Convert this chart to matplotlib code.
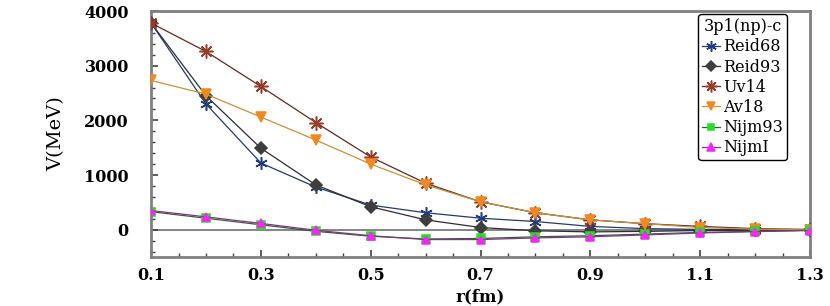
"""
3p1(np)-c potential V(r) for several NN potential models.
"""
import matplotlib
matplotlib.use("Agg")
import matplotlib.pyplot as plt
from matplotlib.ticker import MultipleLocator

# ── Data ──────────────────────────────────────────────────────────────────
r = [0.1, 0.2, 0.3, 0.4, 0.5, 0.6, 0.7, 0.8, 0.9, 1.0, 1.1, 1.2, 1.3]

reid68 = [3780, 2300, 1220, 780, 450, 310, 210, 150, 60, 20, 5, 0, 0]
reid93 = [3780, 2450, 1490, 820, 420, 180, 40, -20, -40, -30, -15, -10, -5]
uv14   = [3780, 3260, 2620, 1960, 1330, 850, 510, 310, 180, 110, 60, 20, 5]
av18   = [2730, 2480, 2060, 1640, 1200, 820, 510, 310, 180, 110, 40, 10, 0]
nijm93 = [330, 210, 90, -30, -120, -170, -160, -130, -110, -80, -50, -30, -10]
nijmI  = [350, 235, 115, -10, -110, -180, -180, -150, -130, -95, -60, -35, -15]

# ── Style per series: (label, values, marker, marker color, line color, size)
SERIES = [
    ("Reid68", reid68, (6, 2, 0), "#1f3d80", "#283a60", 9),
    ("Reid93", reid93, "D",       "#3e3e3e", "#2c2c3a", 6),
    ("Uv14",   uv14,   (8, 2, 0), "#9a3a28", "#5a2a22", 10),
    ("Av18",   av18,   "v",       "#f08a1e", "#c8903a", 7.5),
    ("Nijm93", nijm93, "s",       "#22e022", "#3a5a3a", 5.5),
    ("NijmI",  nijmI,  "^",       "#ff22ff", "#7a3a7a", 6),
]

FRAME = "#808080"
SERIF = "DejaVu Serif"

fig = plt.figure(figsize=(8.30, 3.06), dpi=100, facecolor="white")
ax = fig.add_axes([0.182, 0.160, 0.794, 0.804])

ax.axhline(0, color="#707070", linewidth=1.2, zorder=1)

for label, vals, mk, mcol, lcol, ms in SERIES:
    ax.plot(r, vals, color=lcol, linewidth=0.9, marker=mk, markersize=ms,
            markerfacecolor=mcol, markeredgecolor=mcol, markeredgewidth=1.1,
            label=label, zorder=3)

ax.set_xlim(0.1, 1.3)
ax.set_ylim(-500, 4000)
ax.xaxis.set_minor_locator(MultipleLocator(0.05))
ax.yaxis.set_major_locator(MultipleLocator(1000))
ax.yaxis.set_minor_locator(MultipleLocator(200))
ax.set_xticks([0.1, 0.3, 0.5, 0.7, 0.9, 1.1, 1.3])
ax.set_xticklabels(["0.1", "0.3", "0.5", "0.7", "0.9", "1.1", "1.3"])

ax.tick_params(which="both", direction="in", colors="#404040",
               top=False, right=False)
ax.tick_params(which="major", length=5, width=1.2)
ax.tick_params(which="minor", length=3, width=1.0)
ax.tick_params(axis="x", which="major", pad=7)
ax.tick_params(axis="y", which="major", pad=16)
for lab in ax.get_xticklabels() + ax.get_yticklabels():
    lab.set_fontfamily(SERIF)
    lab.set_fontweight("bold")
    lab.set_fontsize(11.5)
    lab.set_color("black")

for spine in ax.spines.values():
    spine.set_edgecolor(FRAME)
    spine.set_linewidth(2)

ax.set_xlabel("r(fm)", family=SERIF, fontweight="bold", fontsize=12,
              labelpad=3)
ax.set_ylabel("V(MeV)", family=SERIF, fontsize=14, labelpad=14)

leg = ax.legend(title="3p1(np)-c", loc="upper right",
                bbox_to_anchor=(0.970, 1.0), fancybox=True,
                framealpha=1, edgecolor="black", handlelength=1.1,
                handletextpad=0.2, borderpad=0.25, labelspacing=0.2,
                borderaxespad=0.2, markerscale=0.85,
                prop={"family": SERIF, "size": 11.5},
                title_fontproperties={"family": SERIF, "size": 11.5})
leg.get_frame().set_linewidth(1.0)

fig.savefig("out.png", dpi=100, facecolor="white")
